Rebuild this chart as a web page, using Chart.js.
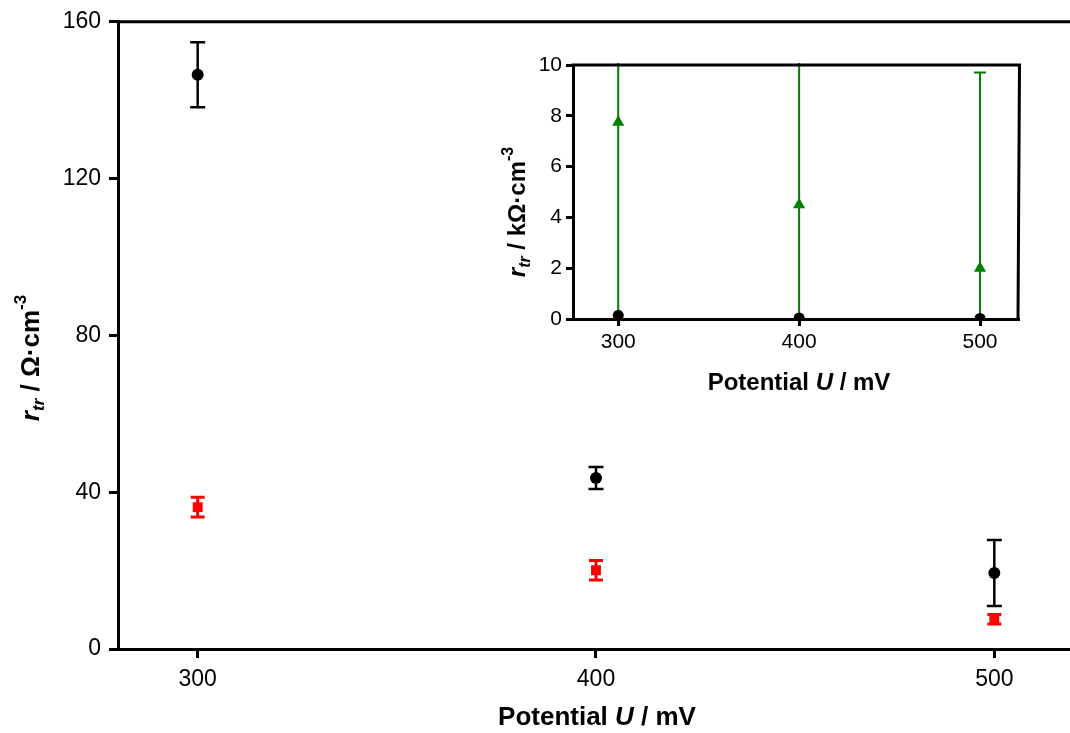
<!DOCTYPE html>
<html>
<head>
<meta charset="UTF-8">
<title>r_tr vs potential</title>
<script src="https://cdn.jsdelivr.net/npm/chart.js@4.4.1/dist/chart.umd.min.js"></script>
<style>
  body { margin: 0; background: #fff; overflow: hidden; }
  #main { position: absolute; left: 0; top: 0; width: 1070px; height: 733px; }
  #inset { position: absolute; left: 470px; top: 40px; width: 590px; height: 360px; }
</style>
</head>
<body>
<div id="main"><canvas id="mainChart"></canvas></div>
<div id="inset"><canvas id="insetChart"></canvas></div>
<script>
// potential in mV
const potential = [300, 400, 500];
// r_tr in Ohm*cm^-3 (main plot)
const blackVals = [146.5, 43.6, 19.4];
const blackErr = [8.3, 2.8, 8.4];
const redVals = [36.2, 20.1, 7.6];
const redErr = [2.5, 2.5, 1.2];
// green series only in the inset, kOhm*cm^-3
const greenVals = [7.75, 4.5, 2.0];
const greenErr = [8.2, 6.0, 7.7];

const mainYTicks = [0, 40, 80, 120, 160];
const insetYTicks = [0, 2, 4, 6, 8, 10];

const FONT = '"Liberation Sans", Arial, sans-serif';

function pts(xs, ys, k) {
    return xs.map((x, i) => ({ x: x, y: ys[i] * k }));
}

// draw text made of pieces (italic / sub / sup)
function richText(ctx, parts, cx, cy, rot) {
    ctx.save();
    ctx.translate(cx, cy);
    if (rot) ctx.rotate(-Math.PI / 2);
    ctx.textBaseline = 'middle';
    ctx.fillStyle = '#000';
    let total = 0;
    parts.forEach(p => { ctx.font = p.f; p.w = ctx.measureText(p.t).width; total += p.w; });
    let x = -total / 2;
    parts.forEach(p => {
        ctx.font = p.f;
        ctx.textAlign = 'left';
        ctx.fillText(p.t, x, p.dy || 0);
        x += p.w;
    });
    ctx.restore();
}

// error bars, drawn through the chart scales
const errorBars = {
    id: 'errorBars',
    beforeDatasetsDraw(chart) {
        const { ctx, chartArea, scales } = chart;
        ctx.save();
        ctx.beginPath();
        ctx.rect(chartArea.left, chartArea.top - 2, chartArea.right - chartArea.left, chartArea.bottom - chartArea.top + 2);
        ctx.clip();
        chart.data.datasets.slice().reverse().forEach(ds => {
            if (!ds.err) return;
            ctx.strokeStyle = ds.backgroundColor;
            ctx.lineWidth = ds.errWidth;
            ds.data.forEach((p, i) => {
                const px = scales.x.getPixelForValue(p.x);
                const lo = scales.y.getPixelForValue(p.y - ds.err[i]);
                const hi = scales.y.getPixelForValue(p.y + ds.err[i]);
                const c = ds.cap / 2;
                ctx.beginPath();
                ctx.moveTo(px, lo); ctx.lineTo(px, hi);
                ctx.moveTo(px - c, lo); ctx.lineTo(px + c, lo);
                ctx.moveTo(px - c, hi); ctx.lineTo(px + c, hi);
                ctx.stroke();
            });
        });
        ctx.restore();
    }
};

function frame(full, opts) {
    return {
        id: 'frame',
        afterDraw(chart) {
            const { ctx, chartArea: a } = chart;
            ctx.save();
            ctx.strokeStyle = '#000';
            ctx.lineWidth = 3;
            ctx.beginPath();
            ctx.moveTo(a.left - 1.5, a.top);
            ctx.lineTo(a.right + (full ? 1.5 : 0), a.top);
            if (full) ctx.lineTo(a.right, a.bottom);
            ctx.stroke();
            ctx.restore();
            richText(ctx, opts.xTitle, opts.xPos[0], opts.xPos[1], false);
            richText(ctx, opts.yTitle, opts.yPos[0], opts.yPos[1], true);
        }
    };
}

function xTitle(size) {
    return [
        { t: 'Potential ', f: 'bold ' + size + 'px ' + FONT },
        { t: 'U', f: 'italic bold ' + size + 'px ' + FONT },
        { t: ' / mV', f: 'bold ' + size + 'px ' + FONT }
    ];
}
function yTitle(size, unit) {
    const small = Math.round(size * 0.65);
    return [
        { t: 'r', f: 'italic bold ' + size + 'px ' + FONT },
        { t: 'tr', f: 'italic bold ' + small + 'px ' + FONT, dy: size * 0.3 },
        { t: ' / ' + unit + '\u00b7cm', f: 'bold ' + size + 'px ' + FONT },
        { t: '-3', f: 'bold ' + small + 'px ' + FONT, dy: -size * 0.4 }
    ];
}

function axes(xmin, xmax, ymin, ymax, yTicks, o) {
    return {
        x: {
            type: 'linear', min: xmin, max: xmax,
            afterBuildTicks: s => { s.ticks = potential.map(v => ({ value: v })); },
            afterFit: s => { s.height = o.xh; s.paddingLeft = 0; s.paddingRight = 0; },
            grid: { drawOnChartArea: false, drawTicks: true, tickLength: o.tl, color: '#000', lineWidth: 3 },
            border: { color: '#000', width: 3 },
            ticks: { color: '#000', font: { family: FONT, size: o.fs }, padding: o.xpad, maxRotation: 0 }
        },
        y: {
            min: ymin, max: ymax,
            afterBuildTicks: s => { s.ticks = yTicks.map(v => ({ value: v })); },
            afterFit: s => { s.width = o.yw; },
            grid: { drawOnChartArea: false, drawTicks: true, tickLength: o.tl, color: '#000', lineWidth: 3 },
            border: { color: '#000', width: 3 },
            ticks: { color: '#000', font: { family: FONT, size: o.fs }, padding: o.ypad }
        }
    };
}

const common = {
    responsive: true,
    maintainAspectRatio: false,
    animation: false,
    plugins: { legend: { display: false }, tooltip: { enabled: false } }
};

new Chart(document.getElementById('mainChart'), {
    type: 'scatter',
    data: {
        datasets: [
            { data: pts(potential, blackVals, 1), err: blackErr, errWidth: 2.5, cap: 15,
              backgroundColor: '#000', borderWidth: 0, pointStyle: 'circle', pointRadius: 6 },
            { data: pts(potential, redVals, 1), err: redErr, errWidth: 3, cap: 14,
              backgroundColor: '#ff0000', borderWidth: 0, pointStyle: 'rect', pointRadius: 7 }
        ]
    },
    options: Object.assign({}, common, {
        layout: { autoPadding: false, padding: { top: 20, left: 0, right: 0, bottom: 0 } },
        scales: axes(280, 519, 0, 160, mainYTicks, { xh: 84, yw: 118, tl: 9, fs: 23, xpad: 8, ypad: 8 })
    }),
    plugins: [errorBars, frame(false, {
        xTitle: xTitle(26), xPos: [597, 718],
        yTitle: yTitle(26, '\u03a9'), yPos: [32, 358]
    })]
});

new Chart(document.getElementById('insetChart'), {
    type: 'scatter',
    data: {
        datasets: [
            { data: pts(potential, blackVals, 0.001), err: blackErr.map(e => e / 1000), errWidth: 2, cap: 10,
              backgroundColor: '#000', borderWidth: 0, pointStyle: 'circle', pointRadius: 5.5 },
            { data: pts(potential, redVals, 0.001), err: redErr.map(e => e / 1000), errWidth: 2, cap: 10,
              backgroundColor: '#ff0000', borderWidth: 0, pointStyle: 'rect', pointRadius: 6 },
            { data: pts(potential, greenVals, 1), err: greenErr, errWidth: 2, cap: 12,
              backgroundColor: '#008000', borderWidth: 0, pointStyle: 'triangle', pointRadius: 7 }
        ]
    },
    options: Object.assign({}, common, {
        layout: { autoPadding: false, padding: { top: 25, left: 0, right: 42, bottom: 0 } },
        scales: axes(275, 521, 0, 10, insetYTicks, { xh: 81, yw: 103, tl: 7, fs: 21, xpad: 4, ypad: 4 })
    }),
    plugins: [errorBars, frame(true, {
        xTitle: xTitle(24), xPos: [329, 343],
        yTitle: yTitle(24, 'k\u03a9'), yPos: [48, 172]
    })]
});
</script>
</body>
</html>
